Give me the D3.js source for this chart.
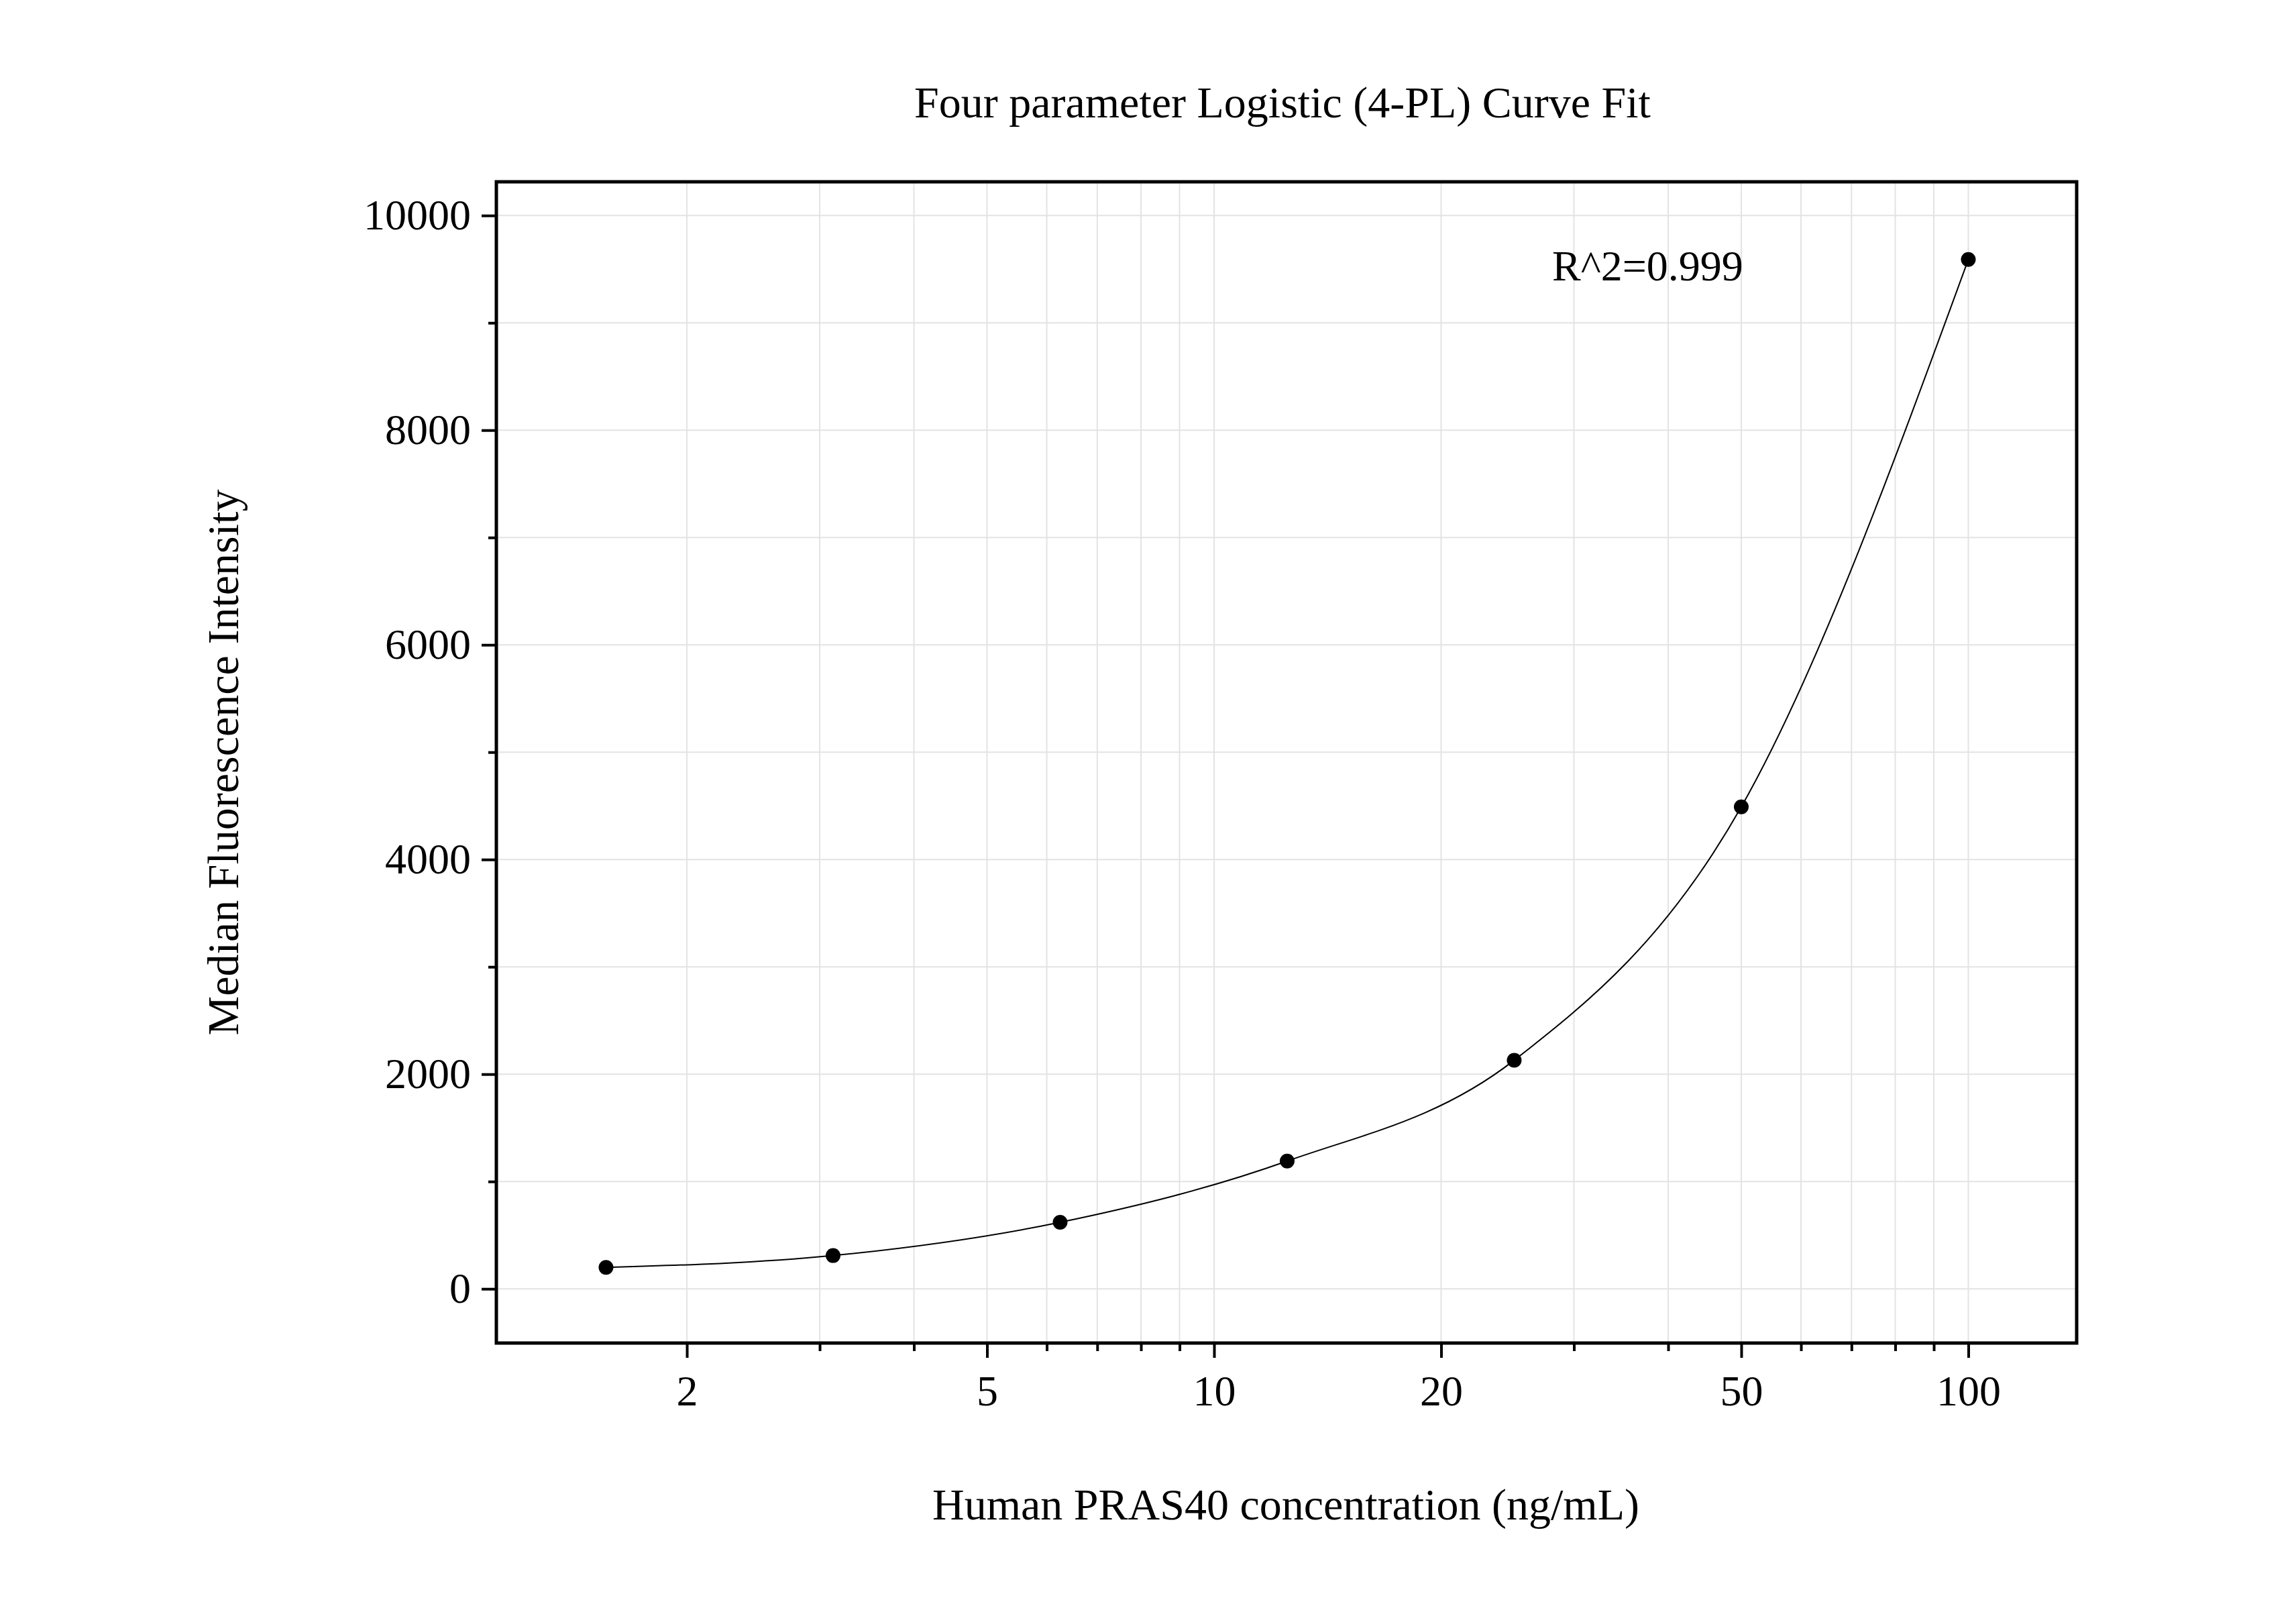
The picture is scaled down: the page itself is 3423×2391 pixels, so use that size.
<!DOCTYPE html>
<html><head><meta charset="utf-8">
<script src="https://cdn.jsdelivr.net/npm/d3@7"></script>
<style>body{margin:0;background:#fff}svg text{font-family:"Liberation Serif","Times New Roman",serif;fill:#000}</style>
</head><body><svg id="c" width="3423" height="2391"></svg>
<script>
// Standard points
const concentrations = [1.5625, 3.125, 6.25, 12.5, 25, 50, 100];
const intensities = [200, 310, 620, 1190, 2130, 4490, 9590];
const xTickLabels = [2, 5, 10, 20, 50, 100];
const yTickLabels = [0, 2000, 4000, 6000, 8000, 10000];

const svg = d3.select('#c');
const L = 740, R = 3096, T = 271, B = 2002;

const x = d3.scaleLog().domain([1.118, 139.2]).range([L, R]);
const y = d3.scaleLinear().domain([-505, 10314]).range([B, T]);

// minor grid values
const xMinor = [];
for (const d of [1, 10, 100]) for (let k = 1; k <= 9; k++) { const v = d * k; if (v > 1.118 && v < 139.2) xMinor.push(v); }
const yMinor = d3.range(0, 10001, 1000);

const grid = svg.append('g').attr('stroke', '#e3e3e3').attr('stroke-width', 2);
grid.selectAll('.gx').data(xMinor).join('line')
  .attr('x1', d => x(d)).attr('x2', d => x(d)).attr('y1', T).attr('y2', B);
grid.selectAll('.gy').data(yMinor).join('line')
  .attr('x1', L).attr('x2', R).attr('y1', d => y(d)).attr('y2', d => y(d));

// x axis
svg.append('g').attr('transform', `translate(0,${B})`)
  .call(d3.axisBottom(x).tickValues(xTickLabels).tickFormat(d3.format('d')).tickSize(22).tickPadding(26));
svg.append('g').attr('transform', `translate(0,${B})`)
  .call(d3.axisBottom(x).tickValues(xMinor.filter(v => !xTickLabels.includes(v))).tickFormat('').tickSize(12))
  .select('.domain').remove();
// y axis
svg.append('g').attr('transform', `translate(${L},0)`)
  .call(d3.axisLeft(y).tickValues(yTickLabels).tickFormat(d3.format('d')).tickSize(22).tickPadding(16));
svg.append('g').attr('transform', `translate(${L},0)`)
  .call(d3.axisLeft(y).tickValues(yMinor.filter(v => !yTickLabels.includes(v))).tickFormat('').tickSize(12))
  .select('.domain').remove();
svg.selectAll('.tick text').attr('font-size', 64);
svg.selectAll('.tick line').attr('stroke-width', 4);
svg.selectAll('.domain').remove();

// frame
svg.append('rect').attr('x', L).attr('y', T).attr('width', R - L).attr('height', B - T)
  .attr('fill', 'none').attr('stroke', '#000').attr('stroke-width', 5);

// fitted curve
const line = d3.line().x((d, i) => x(concentrations[i])).y(d => y(d)).curve(d3.curveMonotoneX);
svg.append('path').attr('d', line(intensities)).attr('fill', 'none').attr('stroke', '#000').attr('stroke-width', 2);

svg.selectAll('.pt').data(intensities).join('circle')
  .attr('cx', (d, i) => x(concentrations[i])).attr('cy', d => y(d)).attr('r', 11).attr('fill', '#000');

svg.append('text').attr('x', 1912).attr('y', 175).attr('text-anchor', 'middle').attr('font-size', 66)
  .text('Four parameter Logistic (4-PL) Curve Fit');
svg.append('text').attr('x', 2314).attr('y', 418).attr('font-size', 64).text('R^2=0.999');
svg.append('text').attr('x', 1917).attr('y', 2265).attr('text-anchor', 'middle').attr('font-size', 66)
  .text('Human PRAS40 concentration (ng/mL)');
svg.append('text').attr('transform', `translate(355,${(T + B) / 2}) rotate(-90)`).attr('text-anchor', 'middle').attr('font-size', 66)
  .text('Median Fluorescence Intensity');
</script></body></html>
